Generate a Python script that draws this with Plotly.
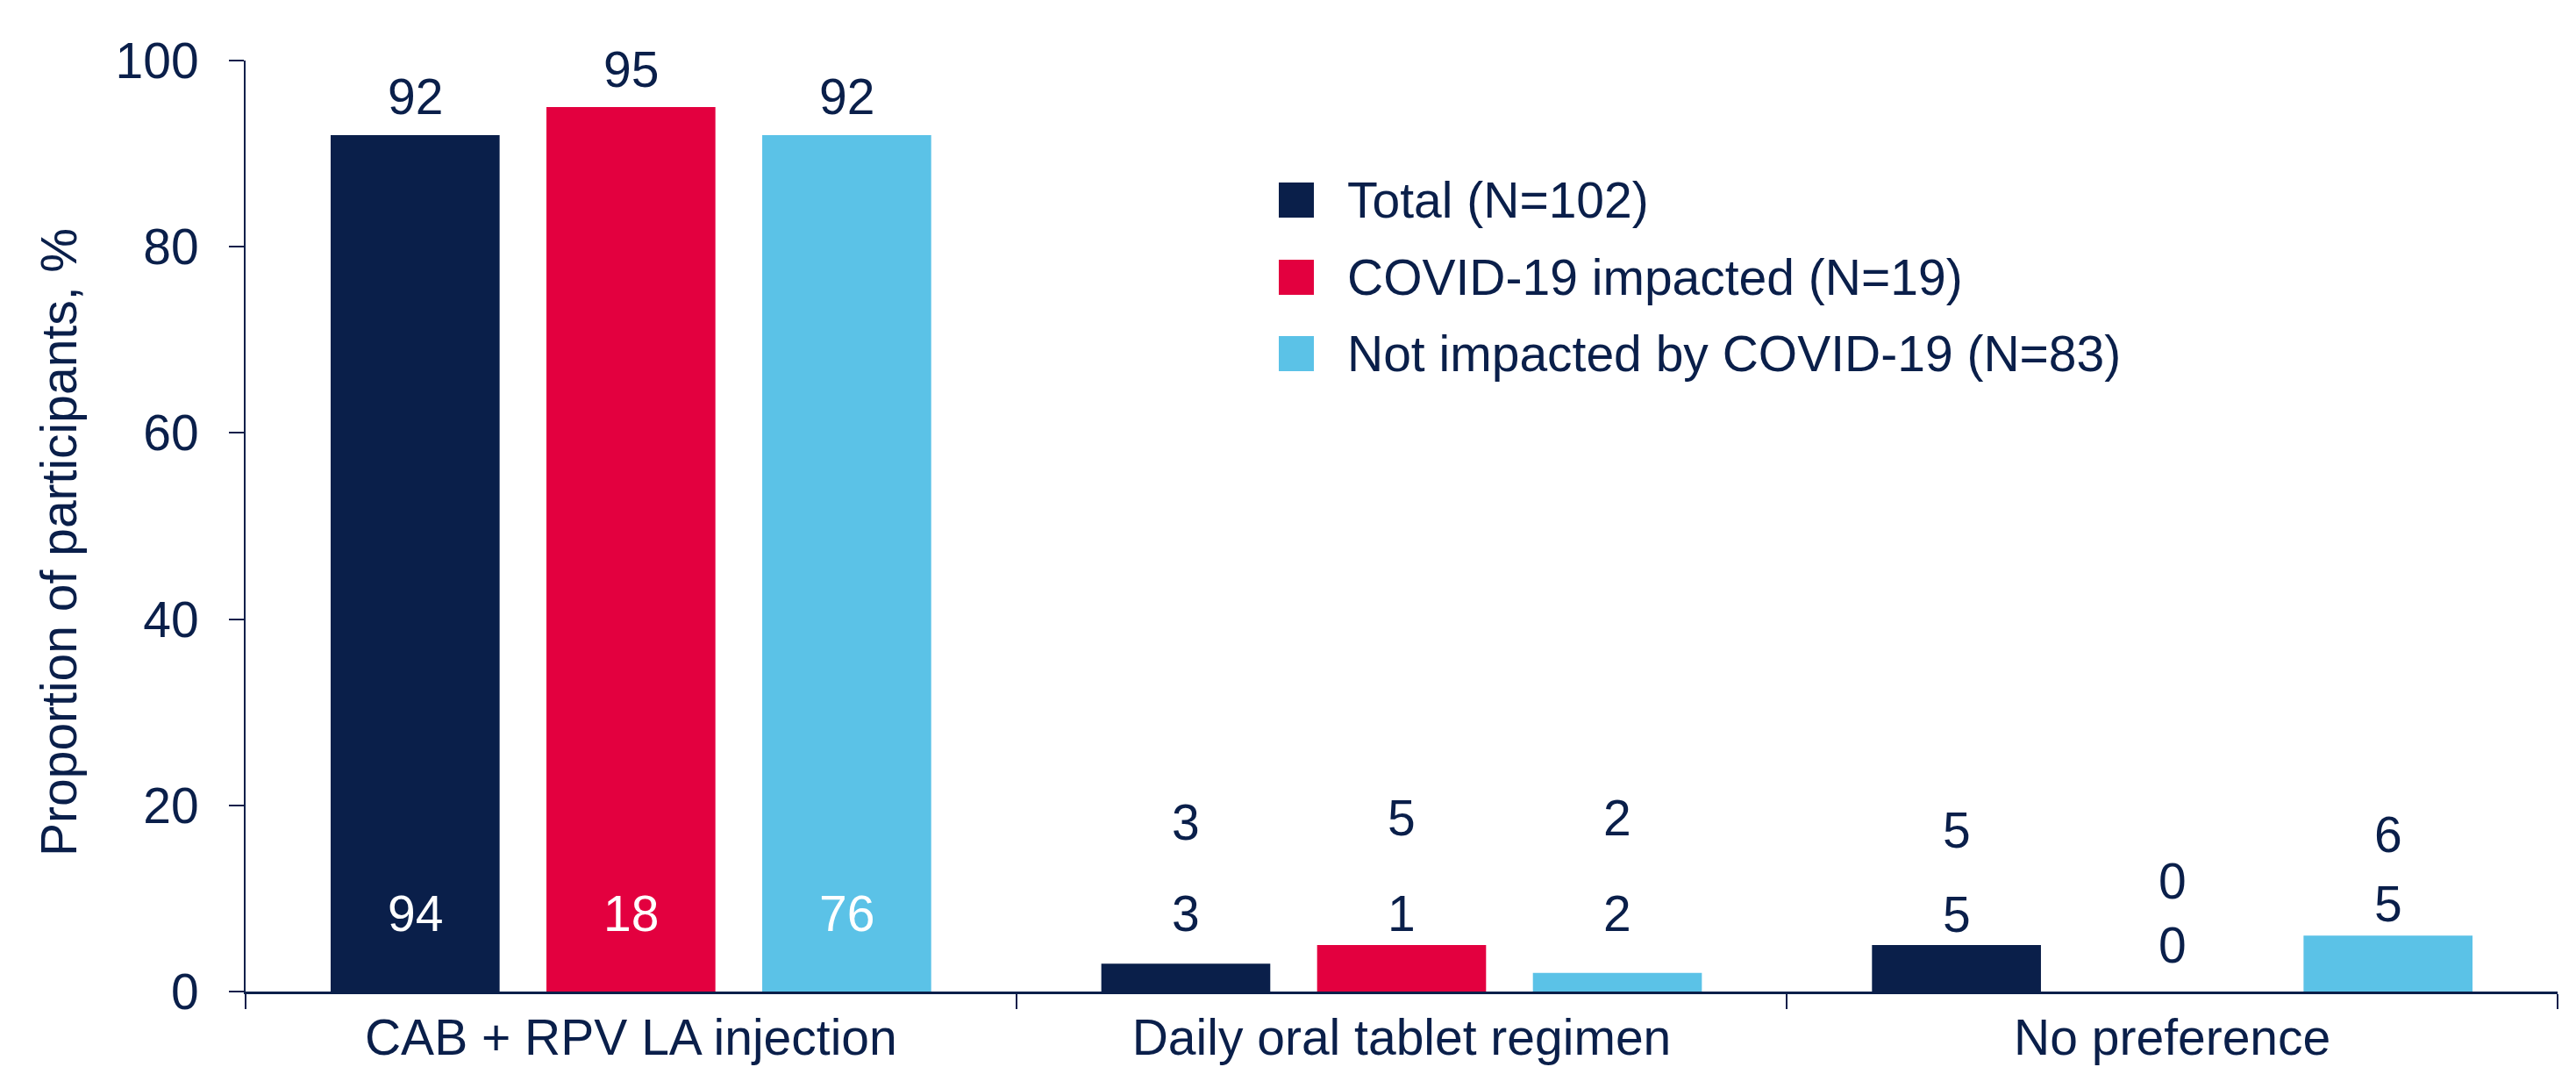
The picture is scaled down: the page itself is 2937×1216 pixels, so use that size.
import plotly.graph_objects as go

# ---- data ----
categories = ["CAB + RPV LA injection", "Daily oral tablet regimen", "No preference"]
series_names = ["Total (N=102)", "COVID-19 impacted (N=19)", "Not impacted by COVID-19 (N=83)"]
total_pct = [92, 3, 5]
covid_pct = [95, 5, 0]
notimp_pct = [92, 2, 6]
total_n = [94, 3, 5]
covid_n = [18, 1, 0]
notimp_n = [76, 2, 5]
y_ticks = [0, 20, 40, 60, 80, 100]
y_title = "Proportion of participants, %"

# label placement (axis units), kept separate from the data
pct_label_y = [[96.1, 18.2, 17.3], [99.1, 18.7, 11.9], [96.1, 18.7, 16.9]]
n_label_y = [[8.4, 8.4, 8.3], [8.4, 8.4, 5.0], [8.4, 8.4, 9.4]]

# ---- style ----
NAVY = "#0A1F4A"
RED = "#E3003F"
BLUE = "#5BC2E7"
colors = [NAVY, RED, BLUE]
FONT = "Arial, Liberation Sans, sans-serif"
FS = 57
BARGAP = 0.16
BARGROUPGAP = 0.217

# page body has an 8px margin; figure sized to fill the 2937x1216 window
OFF = 8
W, H = 2937 - OFF, 1216 - OFF
ML, MR, MT, MB = 280 - OFF, 21, 69 - OFF, 86

pcts = [total_pct, covid_pct, notimp_pct]
ns = [total_n, covid_n, notimp_n]

fig = go.Figure()
for i in range(3):
    fig.add_trace(go.Bar(
        x=categories, y=pcts[i], name=series_names[i],
        marker=dict(color=colors[i], line=dict(width=0)),
        showlegend=False, hoverinfo="x+y+name",
    ))

slot = (1 - BARGAP) / 3
annotations = []
for i in range(3):
    for c in range(3):
        xpos = c + (i - 1) * slot
        annotations.append(dict(
            x=xpos, y=pct_label_y[i][c], xref="x", yref="y",
            text=str(pcts[i][c]), showarrow=False,
            font=dict(family=FONT, size=FS, color=NAVY),
            xanchor="center", yanchor="middle"))
        inside = pcts[i][c] > 20
        annotations.append(dict(
            x=xpos, y=n_label_y[i][c], xref="x", yref="y",
            text=str(ns[i][c]), showarrow=False,
            font=dict(family=FONT, size=FS, color="white" if inside else NAVY),
            xanchor="center", yanchor="middle"))

# helpers: window pixels -> paper coords
pw = W - ML - MR
ph = H - MT - MB
def px_x(px):
    return (px - OFF - ML) / pw
def px_y(py):
    return (H - MB - (py - OFF)) / ph

# y-axis title as rotated annotation
annotations.append(dict(
    x=px_x(67), y=px_y(618), xref="paper", yref="paper",
    text=y_title, textangle=-90, showarrow=False,
    font=dict(family=FONT, size=FS, color=NAVY),
    xanchor="center", yanchor="middle"))

# manual legend (large swatches)
legend_cy = [228, 316, 403]
shapes = []
for i in range(3):
    shapes.append(dict(
        type="rect", xref="paper", yref="paper",
        x0=px_x(1458), x1=px_x(1498),
        y0=px_y(legend_cy[i] + 20), y1=px_y(legend_cy[i] - 20),
        fillcolor=colors[i], line=dict(width=0)))
    annotations.append(dict(
        x=px_x(1534), y=px_y(legend_cy[i]), xref="paper", yref="paper",
        text=series_names[i], showarrow=False,
        font=dict(family=FONT, size=FS, color=NAVY),
        xanchor="left", yanchor="middle"))

fig.update_layout(
    width=W, height=H,
    margin=dict(l=ML, r=MR, t=MT, b=MB, autoexpand=False),
    paper_bgcolor="white", plot_bgcolor="white",
    barmode="group", bargap=BARGAP, bargroupgap=BARGROUPGAP,
    font=dict(family=FONT, size=FS, color=NAVY),
    annotations=annotations, shapes=shapes,
    showlegend=False,
)
fig.update_xaxes(
    type="category", tickson="boundaries", ticks="outside", ticklen=17,
    tickwidth=2, tickcolor=NAVY, showline=True, linecolor=NAVY, linewidth=2.5,
    showgrid=False, zeroline=False, automargin=False,
    tickfont=dict(family=FONT, size=FS, color=NAVY),
    ticklabelstandoff=1,
)
fig.update_yaxes(
    range=[0, 100], tickvals=y_ticks, ticks="outside", ticklen=17,
    tickwidth=2, tickcolor=NAVY, showline=True, linecolor=NAVY, linewidth=2,
    showgrid=False, zeroline=False, automargin=False,
    tickfont=dict(family=FONT, size=FS, color=NAVY),
    ticklabelstandoff=23,
)

fig.write_html("out.html")
